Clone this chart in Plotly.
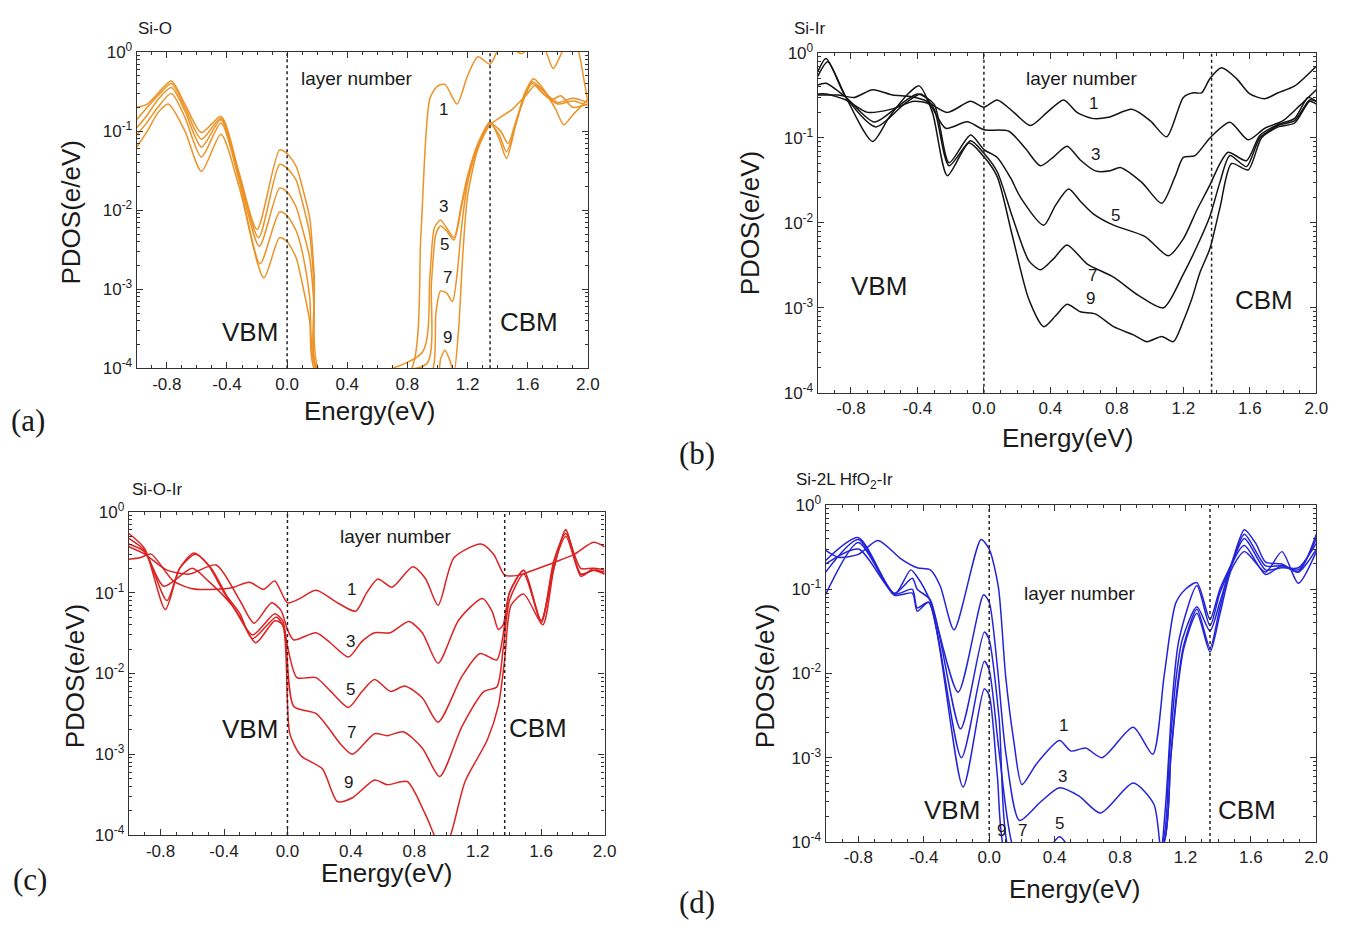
import plotly.graph_objects as go

W, H = 1362, 931

# ---------------- data: energies (eV) and PDOS (e/eV) ----------------
x_tick_vals = [-0.8, -0.4, 0.0, 0.4, 0.8, 1.2, 1.6, 2.0]
x_tick_text = ["-0.8", "-0.4", "0.0", "0.4", "0.8", "1.2", "1.6", "2.0"]
y_tick_vals = [1e-4, 1e-3, 1e-2, 1e-1, 1.0]
y_tick_text = ["10<sup>-4</sup>", "10<sup>-3</sup>", "10<sup>-2</sup>", "10<sup>-1</sup>", "10<sup>0</sup>"]
layers = ["1", "3", "5", "7", "9"]

vbm_a, cbm_a = 0.0, 1.35
vbm_b, cbm_b = 0.0, 1.37
vbm_c, cbm_c = 0.0, 1.37
vbm_d, cbm_d = 0.0, 1.35

# (a) Si-O
a_E1 = [-1.0, -0.93, -0.86, -0.77, -0.68, -0.57, -0.44, -0.32, -0.2, -0.05, 0.0, 0.06, 0.1, 0.15, 0.18, 0.205, 0.5,
        0.83, 0.89, 0.95, 1.0, 1.05, 1.13, 1.2, 1.27, 1.35, 1.42, 1.5, 1.56, 1.63, 1.71, 1.77, 1.84, 1.9, 1.94, 1.97, 2.0]
a_L1 = [0.2, 0.22, 0.3, 0.43, 0.22, 0.096, 0.153, 0.03, 0.0057, 0.058, 0.052, 0.036, 0.02, 0.008, 0.0015, 0.0001, 0.00002,
        0.0001, 0.005, 0.26, 0.37, 0.39, 0.22, 0.5, 0.87, 0.7, 1.2, 1.1, 0.95, 1.2, 1.1, 0.62, 1.1, 1.5, 1.0, 0.5, 0.24]
a_E3 = [-1.0, -0.93, -0.86, -0.77, -0.68, -0.57, -0.44, -0.32, -0.19, -0.05, 0.0, 0.06, 0.1, 0.15, 0.18, 0.2, 0.5,
        0.9, 0.95, 0.98, 1.02, 1.06, 1.11, 1.16, 1.2, 1.27, 1.35, 1.41, 1.46, 1.52, 1.58, 1.64, 1.7, 1.76, 1.82, 1.9, 2.0]
a_L3 = [0.14, 0.2, 0.28, 0.4, 0.2, 0.079, 0.145, 0.028, 0.0045, 0.038, 0.034, 0.024, 0.013, 0.005, 0.001, 0.0001, 0.00008,
        0.00016, 0.0015, 0.006, 0.0075, 0.006, 0.0045, 0.012, 0.027, 0.07, 0.13, 0.08, 0.045, 0.12, 0.3, 0.46, 0.35, 0.25, 0.28, 0.2, 0.22]
a_E5 = [-1.0, -0.93, -0.86, -0.77, -0.68, -0.57, -0.44, -0.32, -0.185, -0.05, 0.0, 0.06, 0.1, 0.15, 0.18, 0.2, 0.6,
        0.93, 0.96, 0.99, 1.02, 1.06, 1.11, 1.16, 1.2, 1.27, 1.35, 1.41, 1.46, 1.52, 1.58, 1.63, 1.7, 1.78, 1.84, 1.9, 2.0]
a_L5 = [0.11, 0.16, 0.25, 0.355, 0.18, 0.063, 0.139, 0.026, 0.0035, 0.019, 0.017, 0.011, 0.006, 0.0025, 0.0006, 0.0001, 0.00009,
        0.000115, 0.0012, 0.005, 0.0063, 0.0055, 0.0042, 0.011, 0.025, 0.068, 0.125, 0.09, 0.055, 0.12, 0.28, 0.42, 0.33, 0.2, 0.12, 0.16, 0.25]
a_E7 = [-1.0, -0.93, -0.86, -0.77, -0.68, -0.57, -0.44, -0.32, -0.18, -0.05, 0.0, 0.06, 0.1, 0.15, 0.19, 0.5,
        0.9, 0.97, 0.99, 1.02, 1.06, 1.1, 1.13, 1.16, 1.2, 1.27, 1.35, 1.42, 1.47, 1.53, 1.63, 1.7, 1.8, 1.9, 2.0]
a_L7 = [0.09, 0.13, 0.2, 0.3, 0.15, 0.047, 0.127, 0.024, 0.0021, 0.0095, 0.0085, 0.0055, 0.003, 0.0008, 0.0001, 0.00003,
        0.00008, 0.0001, 0.0005, 0.00095, 0.0009, 0.0007, 0.0015, 0.006, 0.022, 0.065, 0.125, 0.1, 0.07, 0.15, 0.4, 0.3, 0.22, 0.24, 0.21]
a_E9 = [-1.0, -0.93, -0.86, -0.79, -0.68, -0.57, -0.44, -0.32, -0.155, -0.05, 0.0, 0.06, 0.1, 0.15, 0.18, 0.5,
        1.0, 1.02, 1.05, 1.08, 1.11, 1.14, 1.17, 1.2, 1.27, 1.35, 1.42, 1.5, 1.6, 1.65, 1.72, 1.8, 1.9, 2.0]
a_L9 = [0.063, 0.1, 0.17, 0.22, 0.1, 0.031, 0.091, 0.02, 0.0014, 0.0045, 0.004, 0.0025, 0.0012, 0.0004, 0.0001, 0.00003,
        0.00008, 0.00013, 0.00017, 0.00013, 0.00009, 0.0003, 0.003, 0.015, 0.06, 0.12, 0.15, 0.19, 0.3, 0.38, 0.3, 0.23, 0.26, 0.23]

# (b) Si-Ir
b_E1 = [-1.0, -0.88, -0.78, -0.67, -0.55, -0.45, -0.36, -0.22, -0.08, 0.0, 0.08, 0.18, 0.28, 0.38, 0.48, 0.56, 0.65, 0.75,
        0.89, 1.0, 1.1, 1.2, 1.26, 1.31, 1.36, 1.43, 1.52, 1.6, 1.69, 1.77, 1.87, 2.0]
b_L1 = [0.32, 0.32, 0.3, 0.37, 0.32, 0.31, 0.28, 0.2, 0.27, 0.23, 0.28, 0.2, 0.14, 0.2, 0.28, 0.2, 0.17, 0.175,
        0.217, 0.16, 0.103, 0.3, 0.34, 0.34, 0.5, 0.67, 0.5, 0.33, 0.29, 0.34, 0.41, 0.7]
b_E3 = [-1.0, -0.95, -0.83, -0.7, -0.55, -0.42, -0.33, -0.23, -0.1, 0.0, 0.15, 0.25, 0.34, 0.42, 0.5, 0.58, 0.67, 0.76,
        0.82, 0.95, 1.07, 1.15, 1.2, 1.27, 1.36, 1.48, 1.59, 1.69, 1.8, 1.9, 2.0]
b_L3 = [0.33, 0.33, 0.28, 0.2, 0.22, 0.27, 0.25, 0.13, 0.155, 0.125, 0.12, 0.075, 0.047, 0.06, 0.08, 0.055, 0.041, 0.041,
        0.045, 0.03, 0.017, 0.035, 0.059, 0.062, 0.1, 0.153, 0.095, 0.13, 0.16, 0.24, 0.37]
b_E5 = [-1.0, -0.95, -0.83, -0.66, -0.5, -0.4, -0.3, -0.21, -0.08, 0.0, 0.08, 0.16, 0.22, 0.36, 0.43, 0.51, 0.58, 0.66,
        0.78, 0.97, 1.11, 1.2, 1.28, 1.36, 1.42, 1.47, 1.58, 1.66, 1.77, 1.87, 1.95, 2.0]
b_L5 = [0.42, 0.44, 0.3, 0.154, 0.25, 0.33, 0.25, 0.051, 0.108, 0.073, 0.059, 0.034, 0.02, 0.0094, 0.016, 0.025, 0.018, 0.0127,
        0.0094, 0.0069, 0.0041, 0.0065, 0.014, 0.028, 0.05, 0.068, 0.054, 0.107, 0.144, 0.17, 0.3, 0.27]
b_E7 = [-1.0, -0.94, -0.83, -0.65, -0.48, -0.38, -0.3, -0.21, -0.08, 0.0, 0.08, 0.17, 0.27, 0.34, 0.42, 0.5, 0.62, 0.78,
        0.93, 1.08, 1.2, 1.28, 1.36, 1.42, 1.48, 1.58, 1.66, 1.77, 1.87, 1.96, 2.0]
b_L7 = [0.53, 0.79, 0.3, 0.135, 0.25, 0.33, 0.22, 0.047, 0.093, 0.066, 0.04, 0.012, 0.0036, 0.0028, 0.0038, 0.0055, 0.0033, 0.0023,
        0.0014, 0.001, 0.0025, 0.0052, 0.012, 0.03, 0.062, 0.046, 0.1, 0.14, 0.16, 0.28, 0.27]
b_E9 = [-1.0, -0.95, -0.83, -0.67, -0.57, -0.45, -0.39, -0.31, -0.22, -0.09, 0.0, 0.08, 0.17, 0.27, 0.36, 0.43, 0.5, 0.58,
        0.67, 0.78, 0.9, 0.98, 1.07, 1.14, 1.2, 1.25, 1.3, 1.36, 1.42, 1.49, 1.59, 1.67, 1.77, 1.87, 1.96, 2.0]
b_L9 = [0.6, 0.86, 0.3, 0.091, 0.176, 0.34, 0.41, 0.2, 0.036, 0.087, 0.06, 0.035, 0.0072, 0.00126, 0.0006, 0.0008, 0.0011, 0.0009,
        0.00085, 0.0006, 0.00048, 0.0004, 0.00046, 0.0004, 0.0007, 0.00126, 0.0026, 0.005, 0.015, 0.05, 0.042, 0.1, 0.135, 0.15, 0.27, 0.25]

# (c) Si-O-Ir
c_E1 = [-1.0, -0.93, -0.86, -0.72, -0.6, -0.45, -0.35, -0.24, -0.15, -0.08, 0.0, 0.08, 0.18, 0.32, 0.43, 0.5, 0.57, 0.66,
        0.79, 0.87, 0.95, 1.05, 1.22, 1.3, 1.37, 1.46, 1.55, 1.69, 1.81, 1.93, 2.0]
c_L1 = [0.26, 0.27, 0.3, 0.14, 0.112, 0.11, 0.115, 0.135, 0.11, 0.14, 0.075, 0.085, 0.107, 0.074, 0.059, 0.1, 0.148, 0.117,
        0.21, 0.15, 0.07, 0.27, 0.4, 0.3, 0.165, 0.165, 0.19, 0.24, 0.3, 0.42, 0.37]
c_E3 = [-1.0, -0.9, -0.76, -0.62, -0.45, -0.3, -0.21, -0.1, -0.04, 0.0, 0.04, 0.18, 0.27, 0.385, 0.47, 0.55, 0.65, 0.765,
        0.85, 0.95, 1.08, 1.23, 1.29, 1.33, 1.36, 1.4, 1.49, 1.6, 1.68, 1.755, 1.85, 1.93, 2.0]
c_L3 = [0.37, 0.3, 0.19, 0.17, 0.22, 0.08, 0.042, 0.075, 0.06, 0.035, 0.026, 0.032, 0.024, 0.016, 0.025, 0.032, 0.032, 0.044,
        0.032, 0.0134, 0.046, 0.085, 0.059, 0.035, 0.04, 0.1, 0.19, 0.045, 0.2, 0.6, 0.17, 0.19, 0.18]
c_E5 = [-1.0, -0.9, -0.78, -0.6, -0.5, -0.35, -0.22, -0.08, -0.03, 0.0, 0.06, 0.18, 0.27, 0.385, 0.47, 0.55, 0.65, 0.74,
        0.85, 0.95, 1.1, 1.215, 1.32, 1.36, 1.4, 1.49, 1.6, 1.68, 1.755, 1.85, 1.93, 2.0]
c_L5 = [0.4, 0.32, 0.12, 0.2, 0.14, 0.07, 0.03, 0.055, 0.045, 0.022, 0.0089, 0.0089, 0.0061, 0.0038, 0.006, 0.0084, 0.006, 0.007,
        0.005, 0.0025, 0.0092, 0.0177, 0.0147, 0.03, 0.1, 0.19, 0.042, 0.25, 0.54, 0.2, 0.2, 0.17]
c_E7 = [-1.0, -0.9, -0.76, -0.68, -0.58, -0.48, -0.38, -0.3, -0.22, -0.07, -0.02, 0.04, 0.18, 0.34, 0.41, 0.55, 0.63, 0.73,
        0.85, 0.96, 1.1, 1.24, 1.32, 1.36, 1.4, 1.49, 1.6, 1.68, 1.755, 1.85, 1.93, 2.0]
c_L7 = [0.47, 0.33, 0.08, 0.2, 0.3, 0.2, 0.09, 0.055, 0.027, 0.05, 0.035, 0.0039, 0.0032, 0.0013, 0.001, 0.0018, 0.0017, 0.0019,
        0.0012, 0.00053, 0.0022, 0.006, 0.0068, 0.02, 0.08, 0.17, 0.045, 0.22, 0.5, 0.17, 0.19, 0.17]
c_E9 = [-1.0, -0.9, -0.77, -0.68, -0.59, -0.5, -0.4, -0.3, -0.2, -0.08, -0.03, 0.015, 0.085, 0.22, 0.315, 0.41, 0.55, 0.63,
        0.755, 0.87, 0.97, 1.02, 1.12, 1.26, 1.33, 1.37, 1.41, 1.49, 1.61, 1.68, 1.755, 1.85, 1.93, 2.0]
c_L9 = [0.54, 0.35, 0.062, 0.2, 0.31, 0.22, 0.1, 0.05, 0.024, 0.045, 0.04, 0.0018, 0.00096, 0.00066, 0.00026, 0.00029, 0.00048, 0.00042,
        0.00046, 0.00018, 0.00007, 0.00009, 0.00046, 0.0015, 0.004, 0.015, 0.07, 0.096, 0.04, 0.2, 0.6, 0.16, 0.2, 0.19]

# (d) Si-2L HfO2-Ir
d_E1 = [-1.0, -0.92, -0.8, -0.68, -0.54, -0.44, -0.36, -0.3, -0.215, -0.05, 0.0, 0.056, 0.1, 0.15, 0.2, 0.29, 0.43, 0.5,
        0.59, 0.69, 0.88, 1.0, 1.07, 1.14, 1.2, 1.27, 1.35, 1.41, 1.48, 1.56, 1.63, 1.69, 1.79, 1.89, 2.0]
d_L1 = [0.29, 0.24, 0.26, 0.38, 0.23, 0.18, 0.17, 0.11, 0.033, 0.39, 0.3, 0.107, 0.0095, 0.0016, 0.00048, 0.00085, 0.0016, 0.0012,
        0.0013, 0.001, 0.0023, 0.0011, 0.0095, 0.068, 0.1, 0.12, 0.044, 0.1, 0.2, 0.51, 0.35, 0.21, 0.2, 0.16, 0.45]
d_E3 = [-1.0, -0.8, -0.58, -0.48, -0.44, -0.36, -0.19, -0.034, 0.0, 0.05, 0.1, 0.185, 0.315, 0.43, 0.55, 0.68, 0.88, 1.007,
        1.05, 1.08, 1.12, 1.16, 1.27, 1.35, 1.41, 1.48, 1.56, 1.69, 1.79, 1.89, 2.0]
d_L3 = [0.22, 0.41, 0.087, 0.17, 0.14, 0.072, 0.006, 0.086, 0.07, 0.012, 0.0012, 0.00018, 0.0003, 0.00044, 0.00035, 0.00022, 0.0005, 0.00028,
        0.00008, 0.0003, 0.005, 0.025, 0.11, 0.037, 0.09, 0.19, 0.45, 0.19, 0.19, 0.17, 0.4]
d_E5 = [-1.0, -0.8, -0.58, -0.47, -0.44, -0.36, -0.175, -0.03, 0.0, 0.06, 0.12, 0.25, 0.36, 0.43, 0.5, 0.6, 0.9, 1.06,
        1.1, 1.14, 1.18, 1.27, 1.35, 1.41, 1.48, 1.56, 1.69, 1.79, 1.89, 2.0]
d_L5 = [0.16, 0.39, 0.09, 0.135, 0.1, 0.075, 0.0022, 0.031, 0.025, 0.003, 0.00008, 0.00004, 0.00008, 0.000115, 0.00008, 0.00004, 0.00004, 0.0001,
        0.001, 0.008, 0.025, 0.062, 0.032, 0.07, 0.19, 0.4, 0.17, 0.18, 0.18, 0.35]
d_E7 = [-1.0, -0.8, -0.58, -0.47, -0.44, -0.37, -0.17, -0.03, 0.0, 0.06, 0.15, 0.3, 0.9, 1.07, 1.11, 1.15, 1.19, 1.27,
        1.35, 1.41, 1.48, 1.56, 1.69, 1.79, 1.89, 2.0]
d_L7 = [0.087, 0.36, 0.085, 0.09, 0.055, 0.07, 0.001, 0.014, 0.011, 0.0012, 0.00008, 0.00003, 0.00003, 0.0001, 0.001, 0.007, 0.022, 0.058,
        0.02, 0.06, 0.19, 0.33, 0.15, 0.19, 0.16, 0.3]
d_E9 = [-1.0, -0.8, -0.58, -0.47, -0.44, -0.37, -0.16, -0.03, 0.0, 0.05, 0.1, 0.3, 0.9, 1.07, 1.11, 1.15, 1.19, 1.27,
        1.35, 1.41, 1.48, 1.56, 1.69, 1.79, 1.89, 2.0]
d_L9 = [0.2, 0.3, 0.088, 0.1, 0.06, 0.07, 0.00045, 0.0066, 0.0055, 0.0006, 0.00007, 0.00003, 0.00003, 0.0001, 0.001, 0.006, 0.02, 0.052,
        0.018, 0.05, 0.17, 0.28, 0.16, 0.28, 0.118, 0.28]

# ---------------- figure ----------------
fig = go.Figure()

panels = [
    ("", "#EC9226", [(a_E1, a_L1), (a_E3, a_L3), (a_E5, a_L5), (a_E7, a_L7), (a_E9, a_L9)], (vbm_a, cbm_a)),
    ("2", "#141414", [(b_E1, b_L1), (b_E3, b_L3), (b_E5, b_L5), (b_E7, b_L7), (b_E9, b_L9)], (vbm_b, cbm_b)),
    ("3", "#DC2222", [(c_E1, c_L1), (c_E3, c_L3), (c_E5, c_L5), (c_E7, c_L7), (c_E9, c_L9)], (vbm_c, cbm_c)),
    ("4", "#2323D8", [(d_E1, d_L1), (d_E3, d_L3), (d_E5, d_L5), (d_E7, d_L7), (d_E9, d_L9)], (vbm_d, cbm_d)),
]

for ax, color, curves, edges in panels:
    for (E, V), lay in zip(curves, layers):
        fig.add_trace(go.Scatter(
            x=E, y=V, mode="lines", name="layer " + lay,
            line=dict(color=color, width=1.5, shape="spline", smoothing=0.7),
            xaxis="x" + ax, yaxis="y" + ax, showlegend=False, hoverinfo="skip"))
    for e in edges:
        fig.add_shape(type="line", xref="x" + ax, yref=("y" + ax + " domain"),
                      x0=e, x1=e, y0=0, y1=1,
                      line=dict(color="#222222", width=1.5, dash="3px,3px"))

def px_x(p):
    return p / W

def px_y(p):
    return 1 - p / H

# plot-area pixel boxes (left, right, top, bottom)
boxes = {"": (138, 593, 41, 365), "2": (825, 1328, 42, 390),
         "3": (130, 610, 512, 843), "4": (833, 1328, 505, 850)}

minor_log = [m * 10.0 ** e for e in range(-4, 0) for m in range(2, 10)]
tickfont = dict(family="Liberation Sans, Arial, sans-serif", size=17, color="#222222")

layout = dict(width=W, height=H, margin=dict(l=0, r=0, t=0, b=0),
              paper_bgcolor="white", plot_bgcolor="white", showlegend=False)
for ax, (l, r, t, b) in boxes.items():
    layout["xaxis" + ax] = dict(
        domain=[px_x(l), px_x(r)], anchor="y" + ax, range=[-1.0, 2.0],
        tickmode="array", tickvals=x_tick_vals, ticktext=x_tick_text,
        ticks="inside", ticklen=6, tickwidth=1, tickcolor="#333333",
        minor=dict(tickmode="linear", tick0=-1.0, dtick=0.1, ticks="inside", ticklen=3, tickcolor="#333333"),
        showline=True, linewidth=1.3, linecolor="#333333", mirror="allticks",
        showgrid=False, zeroline=False, tickfont=tickfont)
    layout["yaxis" + ax] = dict(
        domain=[px_y(b), px_y(t)], anchor="x" + ax, type="log", range=[-4, 0],
        tickmode="array", tickvals=y_tick_vals, ticktext=y_tick_text,
        ticks="inside", ticklen=6, tickwidth=1, tickcolor="#333333",
        minor=dict(tickmode="array", tickvals=minor_log, ticks="inside", ticklen=3, tickcolor="#333333"),
        showline=True, linewidth=1.3, linecolor="#333333", mirror="allticks",
        showgrid=False, zeroline=False, tickfont=tickfont)
fig.update_layout(**layout)

SANS = "Liberation Sans, Arial, sans-serif"
ann = []

def text(s, x, y, size, xanchor="center", angle=0, family=SANS):
    ann.append(dict(text=s, x=px_x(x), y=px_y(y), xref="paper", yref="paper",
                    xanchor=xanchor, yanchor="middle", showarrow=False, textangle=angle,
                    font=dict(family=family, size=size, color="#1a1a1a")))

# panel titles
text("Si-O", 137, 17, 17, xanchor="left")
text("Si-Ir", 799, 17, 17, xanchor="left")
text("Si-O-Ir", 131, 489, 17, xanchor="left")
text("Si-2L HfO<sub>2</sub>-Ir", 801, 480, 17, xanchor="left")

# "layer number"
text("layer number", 360, 68, 19)
text("layer number", 1092, 68, 19)
text("layer number", 400, 537, 19)
text("layer number", 1090, 596, 19)

# layer labels
for s, (x, y) in zip(layers, [(447, 100), (447, 199), (448, 238), (451, 272), (451, 333)]):
    text(s, x, y, 17)
for s, (x, y) in zip(layers, [(1103, 94), (1105, 146), (1125, 208), (1102, 270), (1100, 293)]):
    text(s, x, y, 17)
for s, (x, y) in zip(layers, [(355, 591), (354, 645), (354, 694), (355, 738), (352, 789)]):
    text(s, x, y, 17)
for s, (x, y) in zip(layers, [(1073, 731), (1072, 783), (1069, 831), (1032, 838), (1010, 838)]):
    text(s, x, y, 17)

# VBM / CBM
for s, x, y in [("VBM", 252, 328), ("CBM", 534, 318), ("VBM", 887, 281), ("CBM", 1275, 295),
                ("VBM", 252, 734), ("CBM", 543, 733), ("VBM", 960, 817), ("CBM", 1258, 817)]:
    text(s, x, y, 26)

# axis titles
for x, y in [(72, 205), (757, 216), (76, 680), (772, 680)]:
    text("PDOS(e/eV)", x, y, 26, angle=-90)
for x, y in [(373, 409), (1077, 436), (390, 882), (1085, 898)]:
    text("Energy(eV)", x, y, 26)

# panel letters
SERIF = "Liberation Serif, Times New Roman, serif"
text("(a)", 28, 418, 31, family=SERIF)
text("(b)", 703, 452, 31, family=SERIF)
text("(c)", 30, 888, 31, family=SERIF)
text("(d)", 703, 912, 31, family=SERIF)

fig.update_layout(annotations=ann)
fig.write_html("out.html")
